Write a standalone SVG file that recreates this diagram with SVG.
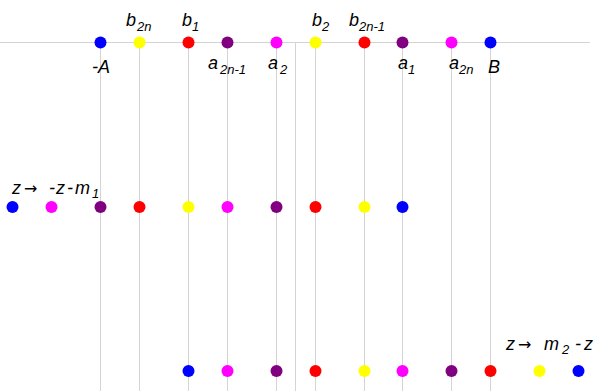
<svg xmlns="http://www.w3.org/2000/svg" width="599" height="391" viewBox="0 0 599 391">
<style>
.ln{stroke:#d4d4d4;stroke-width:1;fill:none}
.t{font-family:"Liberation Sans",Arial,sans-serif;font-style:italic;font-size:18px;fill:#000}
.s{font-family:"Liberation Sans",Arial,sans-serif;font-style:italic;font-size:13px;fill:#000}
.ar{font-family:"DejaVu Sans","Liberation Sans",sans-serif;font-size:16px;fill:#000}
.bl{fill:#0000ff}.ye{fill:#ffff00}.rd{fill:#ff0000}.pu{fill:#800080}.mg{fill:#ff00ff}
</style>
<rect width="599" height="391" fill="#fff"/>
<g id="connectors">
<line class="ln" x1="0" y1="42.5" x2="590" y2="42.5"/>
<line class="ln" x1="100.5" y1="42" x2="100.5" y2="391"/>
<line class="ln" x1="139.5" y1="42" x2="139.5" y2="391"/>
<line class="ln" x1="188.5" y1="42" x2="188.5" y2="391"/>
<line class="ln" x1="227.5" y1="42" x2="227.5" y2="391"/>
<line class="ln" x1="276.5" y1="42" x2="276.5" y2="391"/>
<line class="ln" x1="295.5" y1="42" x2="295.5" y2="391"/>
<line class="ln" x1="315.5" y1="42" x2="315.5" y2="391"/>
<line class="ln" x1="364.5" y1="42" x2="364.5" y2="391"/>
<line class="ln" x1="402.5" y1="42" x2="402.5" y2="391"/>
<line class="ln" x1="451.5" y1="42" x2="451.5" y2="391"/>
<line class="ln" x1="490.5" y1="42" x2="490.5" y2="391"/>
</g>
<g id="row-top">
<circle class="bl" cx="100.5" cy="42.5" r="6"/>
<circle class="ye" cx="139.5" cy="42.5" r="6"/>
<circle class="rd" cx="188.5" cy="42.5" r="6"/>
<circle class="pu" cx="227.5" cy="42.5" r="6"/>
<circle class="mg" cx="276.5" cy="42.5" r="6"/>
<circle class="ye" cx="315.5" cy="42.5" r="6"/>
<circle class="rd" cx="364.5" cy="42.5" r="6"/>
<circle class="pu" cx="402.5" cy="42.5" r="6"/>
<circle class="mg" cx="451.5" cy="42.5" r="6"/>
<circle class="bl" cx="490.5" cy="42.5" r="6"/>
</g>
<g id="labels-top">
<text class="t" x="92" y="73">-A</text>
<text class="t" x="488" y="73">B</text>
<text class="t" x="126" y="26">b</text><text class="s" x="137" y="31">2n</text>
<text class="t" x="182" y="26">b</text><text class="s" x="192" y="31">1</text>
<text class="t" x="208" y="69">a</text><text class="s" x="220" y="74">2n-1</text>
<text class="t" x="268" y="69">a</text><text class="s" x="280" y="74">2</text>
<text class="t" x="312" y="26">b</text><text class="s" x="322" y="31">2</text>
<text class="t" x="349" y="26">b</text><text class="s" x="359" y="31">2n-1</text>
<text class="t" x="398" y="69">a</text><text class="s" x="408" y="74">1</text>
<text class="t" x="449" y="69">a</text><text class="s" x="459" y="74">2n</text>
</g>
<g id="row-middle">
<circle class="bl" cx="12.5" cy="207" r="6"/>
<circle class="mg" cx="51.5" cy="207" r="6"/>
<circle class="pu" cx="100.5" cy="207" r="6"/>
<circle class="rd" cx="139.5" cy="207" r="6"/>
<circle class="ye" cx="188.5" cy="207" r="6"/>
<circle class="mg" cx="227.5" cy="207" r="6"/>
<circle class="pu" cx="276.5" cy="207" r="6"/>
<circle class="rd" cx="315.5" cy="207" r="6"/>
<circle class="ye" cx="364.5" cy="207" r="6"/>
<circle class="bl" cx="402.5" cy="207" r="6"/>
</g>
<g id="label-middle">
<text class="t" x="12" y="194">z</text>
<text class="ar" x="24" y="194">→</text>
<text class="t" y="194"><tspan x="49">-</tspan><tspan x="56">z</tspan><tspan x="67">-</tspan><tspan x="75">m</tspan></text><text class="s" x="92" y="198">1</text>
</g>
<g id="row-bottom">
<circle class="bl" cx="188.5" cy="371" r="6"/>
<circle class="mg" cx="227.5" cy="371" r="6"/>
<circle class="pu" cx="276.5" cy="371" r="6"/>
<circle class="rd" cx="315.5" cy="371" r="6"/>
<circle class="ye" cx="364.5" cy="371" r="6"/>
<circle class="mg" cx="402.5" cy="371" r="6"/>
<circle class="pu" cx="451.5" cy="371" r="6"/>
<circle class="rd" cx="490.5" cy="371" r="6"/>
<circle class="ye" cx="539.5" cy="371" r="6"/>
<circle class="bl" cx="578.5" cy="371" r="6"/>
</g>
<g id="label-bottom">
<text class="t" x="506" y="350">z</text>
<text class="ar" x="518" y="350">→</text>
<text class="t" x="544" y="350">m</text><text class="s" x="562" y="354">2</text>
<text class="t" y="350"><tspan x="575">-</tspan><tspan x="584">z</tspan></text>
</g>
</svg>
